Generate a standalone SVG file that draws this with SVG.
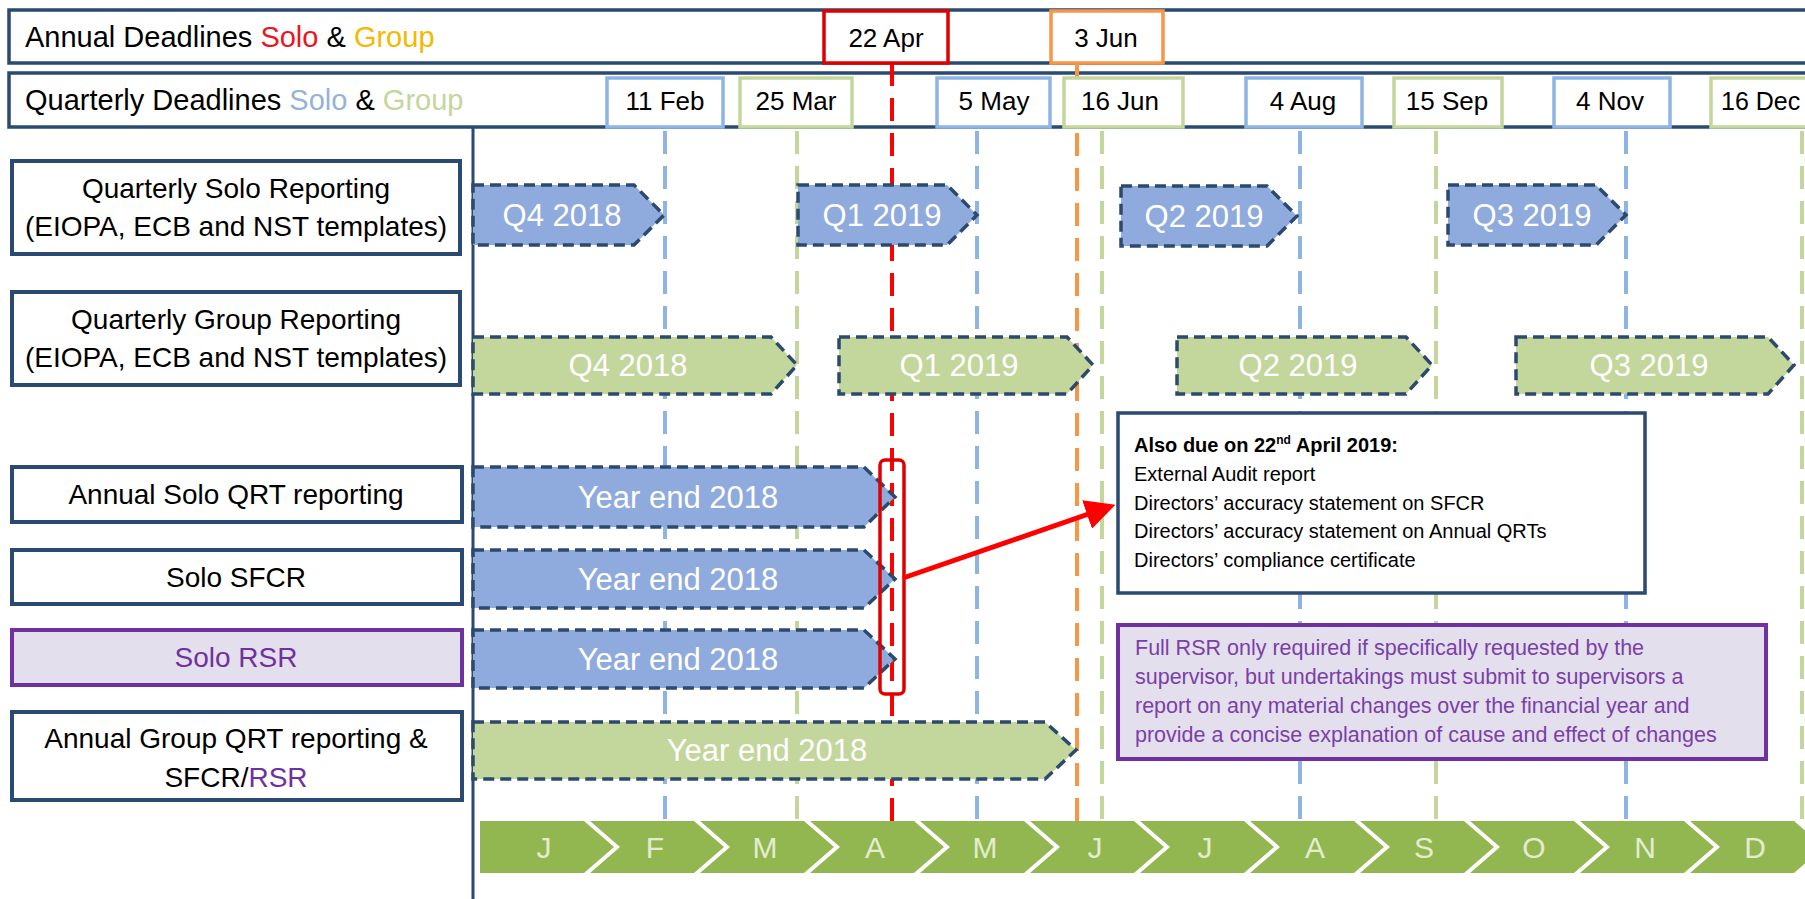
<svg xmlns="http://www.w3.org/2000/svg" width="1805" height="899" viewBox="0 0 1805 899">
<defs>
<style>
text{font-family:"Liberation Sans",Arial,sans-serif;}
.row{fill:#fff;stroke:#2A4A72;stroke-width:3.5}
.lbl{fill:#fff;stroke:#2A4A72;stroke-width:4}
.lt{font-size:28px;fill:#000;text-anchor:middle}
.hd{font-size:29px;fill:#000}
.db{fill:#fff;stroke-width:3.5}
.dbb{stroke:#8EB4E3}
.dbg{stroke:#C3D69B}
.dt{font-size:26px;fill:#000;text-anchor:middle}
.vl{fill:none;stroke-width:4;stroke-dasharray:23 12}
.vb{stroke:#8EB4E3}
.vg{stroke:#C3D69B}
.ab{fill:#8FAADC;stroke:#2C4A6E;stroke-width:3.5;stroke-dasharray:11 6}
.ag{fill:#C3D69B;stroke:#2C4A6E;stroke-width:3.5;stroke-dasharray:11 6}
.at{font-size:31px;fill:#fff;text-anchor:middle}
.mo{fill:#93B750}
.mt{font-size:30px;fill:#E2EDCF;text-anchor:middle}
.nt{font-size:20px;fill:#000}
.pt{font-size:21.5px;fill:#7A3FA8}
</style>
<marker id="ah" markerWidth="6" markerHeight="6" refX="4" refY="3" orient="auto" markerUnits="strokeWidth">
<path d="M0,0 L6,3 L0,6 Z" fill="#FF0000"/>
</marker>
</defs>
<rect width="1805" height="899" fill="#fff"/>

<!-- header rows -->
<g id="row-annual">
<rect class="row" x="9" y="10" width="1810" height="53"/>
<text class="hd" x="25" y="47">Annual Deadlines <tspan fill="#E8171F">Solo</tspan> &amp; <tspan fill="#F5B800">Group</tspan></text>
</g>
<g id="row-quarterly">
<rect class="row" x="9" y="73" width="1810" height="54"/>
<text class="hd" x="25" y="110">Quarterly Deadlines <tspan fill="#95B3D7">Solo</tspan> &amp; <tspan fill="#C3D69B">Group</tspan></text>
</g>

<!-- connectors: deadline lines -->
<g id="connectors">
<line x1="473" y1="127" x2="473" y2="899" stroke="#2A4A72" stroke-width="3"/>
<line class="vl vb" x1="665" y1="131" x2="665" y2="821"/>
<line class="vl vg" x1="797" y1="131" x2="797" y2="821"/>
<line class="vl vb" x1="977" y1="131" x2="977" y2="821"/>
<line class="vl vg" x1="1102" y1="131" x2="1102" y2="821"/>
<line class="vl vb" x1="1300" y1="131" x2="1300" y2="821"/>
<line class="vl vg" x1="1436" y1="131" x2="1436" y2="821"/>
<line class="vl vb" x1="1626" y1="131" x2="1626" y2="821"/>
<line class="vl vg" x1="1802" y1="131" x2="1802" y2="821"/>
<line class="vl" x1="1077" y1="63" x2="1077" y2="821" stroke="#F79646"/>
<line class="vl" x1="892" y1="63" x2="892" y2="821" stroke="#FF0000" stroke-width="5"/>
</g>

<!-- date boxes -->
<g id="d-22apr"><rect class="db" x="824" y="11" width="124" height="52" stroke="#E00000"/><text class="dt" x="886" y="47">22 Apr</text></g>
<g id="d-3jun"><rect class="db" x="1051" y="11" width="112" height="52" stroke="#F79646"/><text class="dt" x="1106" y="47">3 Jun</text></g>
<g id="d-11feb"><rect class="db dbb" x="607" y="78" width="116" height="49"/><text class="dt" x="665" y="110">11 Feb</text></g>
<g id="d-25mar"><rect class="db dbg" x="740" y="78" width="112" height="49"/><text class="dt" x="796" y="110">25 Mar</text></g>
<g id="d-5may"><rect class="db dbb" x="937" y="78" width="113" height="49"/><text class="dt" x="994" y="110">5 May</text></g>
<g id="d-16jun"><rect class="db dbg" x="1064" y="78" width="119" height="49"/><text class="dt" x="1120" y="110">16 Jun</text></g>
<g id="d-4aug"><rect class="db dbb" x="1246" y="78" width="116" height="49"/><text class="dt" x="1303" y="110">4 Aug</text></g>
<g id="d-15sep"><rect class="db dbg" x="1394" y="78" width="108" height="49"/><text class="dt" x="1447" y="110">15 Sep</text></g>
<g id="d-4nov"><rect class="db dbb" x="1554" y="78" width="116" height="49"/><text class="dt" x="1610" y="110">4 Nov</text></g>
<g id="d-16dec"><rect class="db dbg" x="1711" y="78" width="130" height="49"/><text x="1721" y="110" font-size="25" fill="#000">16 Dec</text></g>

<!-- left labels -->
<g id="lbl-qsolo"><rect class="lbl" x="12" y="161" width="448" height="93"/><text class="lt" x="236" y="198">Quarterly Solo Reporting</text><text class="lt" x="236" y="236">(EIOPA, ECB and NST templates)</text></g>
<g id="lbl-qgroup"><rect class="lbl" x="12" y="292" width="448" height="93"/><text class="lt" x="236" y="329">Quarterly Group Reporting</text><text class="lt" x="236" y="367">(EIOPA, ECB and NST templates)</text></g>
<g id="lbl-asolo"><rect class="lbl" x="12" y="467" width="450" height="55"/><text class="lt" x="236" y="504">Annual Solo QRT reporting</text></g>
<g id="lbl-sfcr"><rect class="lbl" x="12" y="550" width="450" height="54"/><text class="lt" x="236" y="587">Solo SFCR</text></g>
<g id="lbl-rsr"><rect x="12" y="630" width="450" height="55" fill="#E4DFEC" stroke="#7030A0" stroke-width="4"/><text class="lt" x="236" y="667" style="fill:#7030A0">Solo RSR</text></g>
<g id="lbl-agroup"><rect class="lbl" x="12" y="712" width="450" height="88"/><text class="lt" x="236" y="748">Annual Group QRT reporting &amp;</text><text class="lt" x="236" y="787">SFCR/<tspan style="fill:#7030A0">RSR</tspan></text></g>

<!-- quarterly solo arrows -->
<g id="qs-q4"><path class="ab" d="M473,185 H634 L664,215 L634,245 H473 Z"/><text class="at" x="562" y="226">Q4 2018</text></g>
<g id="qs-q1"><path class="ab" d="M798,185 H947 L977,215 L947,245 H798 Z"/><text class="at" x="882" y="226">Q1 2019</text></g>
<g id="qs-q2"><path class="ab" d="M1121,186 H1267 L1297,216 L1267,246 H1121 Z"/><text class="at" x="1204" y="227">Q2 2019</text></g>
<g id="qs-q3"><path class="ab" d="M1448,185 H1596 L1626,215 L1596,245 H1448 Z"/><text class="at" x="1532" y="226">Q3 2019</text></g>

<!-- quarterly group arrows -->
<g id="qg-q4"><path class="ag" d="M473,337 H771 L797,365 L771,394 H473 Z"/><text class="at" x="628" y="376">Q4 2018</text></g>
<g id="qg-q1"><path class="ag" d="M839,337 H1067 L1093,365 L1067,394 H839 Z"/><text class="at" x="959" y="376">Q1 2019</text></g>
<g id="qg-q2"><path class="ag" d="M1177,337 H1406 L1432,365 L1406,394 H1177 Z"/><text class="at" x="1298" y="376">Q2 2019</text></g>
<g id="qg-q3"><path class="ag" d="M1516,337 H1768 L1794,365 L1768,394 H1516 Z"/><text class="at" x="1649" y="376">Q3 2019</text></g>

<!-- annual arrows -->
<g id="an-solo"><path class="ab" d="M473,467 H864 L895,497 L864,527 H473 Z"/><text class="at" x="678" y="508">Year end 2018</text></g>
<g id="an-sfcr"><path class="ab" d="M473,550 H864 L895,579 L864,608 H473 Z"/><text class="at" x="678" y="590">Year end 2018</text></g>
<g id="an-rsr"><path class="ab" d="M473,630 H864 L895,659 L864,688 H473 Z"/><text class="at" x="678" y="670">Year end 2018</text></g>
<g id="an-group"><path class="ag" d="M473,722 H1045 L1076,750 L1045,779 H473 Z"/><text class="at" x="767" y="761">Year end 2018</text></g>

<!-- red highlight and pointer -->
<g id="highlight">
<rect x="880" y="460" width="24" height="234" rx="5" fill="none" stroke="#E00000" stroke-width="3.5"/>
</g>
<g id="pointer">
<line x1="903" y1="578" x2="1106" y2="508" stroke="#FF0000" stroke-width="5" marker-end="url(#ah)"/>
</g>

<!-- note boxes -->
<g id="note-also">
<rect x="1118" y="413" width="527" height="180" fill="#fff" stroke="#2A4A72" stroke-width="3.5"/>
<text class="nt" x="1134" y="452" font-weight="bold">Also due on 22<tspan font-size="12" dy="-8">nd</tspan><tspan dy="8"> April 2019:</tspan></text>
<text class="nt" x="1134" y="481">External Audit report</text>
<text class="nt" x="1134" y="510">Directors’ accuracy statement on SFCR</text>
<text class="nt" x="1134" y="538">Directors’ accuracy statement on Annual QRTs</text>
<text class="nt" x="1134" y="567">Directors’ compliance certificate</text>
</g>
<g id="note-rsr">
<rect x="1118" y="625" width="648" height="134" fill="#E4DFEC" stroke="#7030A0" stroke-width="4"/>
<text class="pt" x="1135" y="655">Full RSR only required if specifically requested by the</text>
<text class="pt" x="1135" y="684">supervisor, but undertakings must submit to supervisors a</text>
<text class="pt" x="1135" y="713">report on any material changes over the financial year and</text>
<text class="pt" x="1135" y="742">provide a concise explanation of cause and effect of changes</text>
</g>

<!-- month bar -->
<g id="months">
<path class="mo" d="M480,821 H584 L614,847 L584,873 H480 Z"/>
<path class="mo" d="M590,821 H694 L724,847 L694,873 H590 L620,847 Z"/>
<path class="mo" d="M700,821 H804 L834,847 L804,873 H700 L730,847 Z"/>
<path class="mo" d="M810,821 H914 L944,847 L914,873 H810 L840,847 Z"/>
<path class="mo" d="M920,821 H1024 L1054,847 L1024,873 H920 L950,847 Z"/>
<path class="mo" d="M1030,821 H1134 L1164,847 L1134,873 H1030 L1060,847 Z"/>
<path class="mo" d="M1140,821 H1244 L1274,847 L1244,873 H1140 L1170,847 Z"/>
<path class="mo" d="M1250,821 H1354 L1384,847 L1354,873 H1250 L1280,847 Z"/>
<path class="mo" d="M1360,821 H1464 L1494,847 L1464,873 H1360 L1390,847 Z"/>
<path class="mo" d="M1470,821 H1574 L1604,847 L1574,873 H1470 L1500,847 Z"/>
<path class="mo" d="M1580,821 H1684 L1714,847 L1684,873 H1580 L1610,847 Z"/>
<path class="mo" d="M1690,821 H1794 L1824,847 L1794,873 H1690 L1720,847 Z"/>
<text class="mt" x="544" y="858">J</text>
<text class="mt" x="655" y="858">F</text>
<text class="mt" x="765" y="858">M</text>
<text class="mt" x="875" y="858">A</text>
<text class="mt" x="985" y="858">M</text>
<text class="mt" x="1095" y="858">J</text>
<text class="mt" x="1205" y="858">J</text>
<text class="mt" x="1315" y="858">A</text>
<text class="mt" x="1424" y="858">S</text>
<text class="mt" x="1534" y="858">O</text>
<text class="mt" x="1645" y="858">N</text>
<text class="mt" x="1755" y="858">D</text>
</g>
</svg>
